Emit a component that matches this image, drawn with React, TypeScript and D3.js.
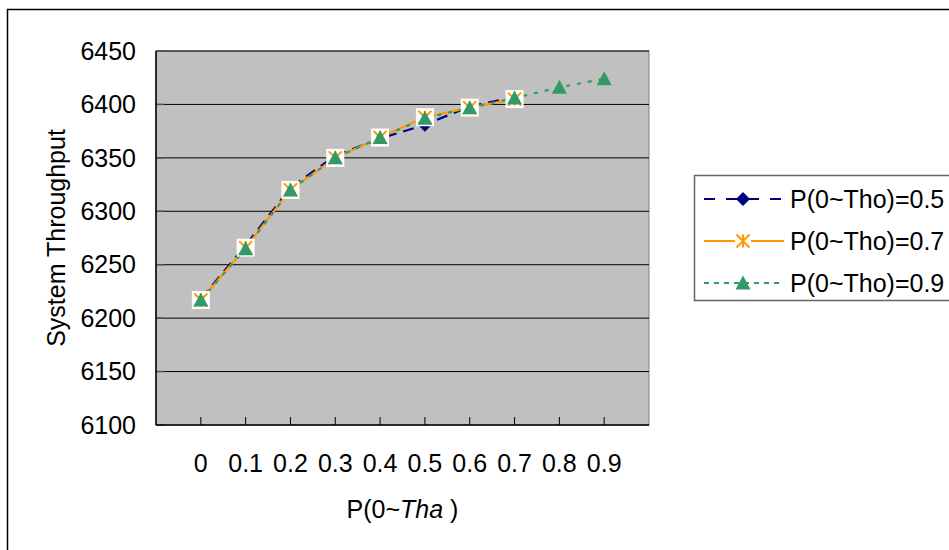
import React from "react";
import * as d3 from "d3";

// Category values along the x axis
const categories = [0, 0.1, 0.2, 0.3, 0.4, 0.5, 0.6, 0.7, 0.8, 0.9];
const categoryLabels = ["0", "0.1", "0.2", "0.3", "0.4", "0.5", "0.6", "0.7", "0.8", "0.9"];

// System throughput per series
const seriesP05 = [6218, 6268, 6322, 6352, 6368, 6381, 6398, 6407];
const seriesP07 = [6217, 6266, 6320, 6350, 6369, 6388, 6397, 6405];
const seriesP09 = [6217, 6265, 6320, 6350, 6369, 6387, 6397, 6406, 6416, 6424];

const seriesNames = ["P(0~Tho)=0.5", "P(0~Tho)=0.7", "P(0~Tho)=0.9"];

const yTicks = [6100, 6150, 6200, 6250, 6300, 6350, 6400, 6450];

const W = 949;
const H = 550;
const plot = { left: 156, right: 649, top: 51, bottom: 425 };

const FONT = "'Liberation Sans', Arial, sans-serif";
const NAVY = "#000080";
const ORANGE = "#FF9900";
const GREEN = "#339966";

export default function App() {
  const x = d3.scaleLinear().domain([-0.1, 1.0]).range([plot.left, plot.right]);
  const y = d3.scaleLinear().domain([6100, 6450]).range([plot.bottom, plot.top]);

  const toPts = (vals: number[]) => vals.map((v, i) => [x(categories[i]), y(v)] as [number, number]);
  const line = d3.line<[number, number]>();

  const p05 = toPts(seriesP05);
  const p07 = toPts(seriesP07);
  const p09 = toPts(seriesP09);

  const diamond = (cx: number, cy: number, r = 7) =>
    `M${cx},${cy - r}L${cx + r},${cy}L${cx},${cy + r}L${cx - r},${cy}Z`;
  const triangle = (cx: number, cy: number) =>
    `M${cx},${cy - 7.5}L${cx + 7.5},${cy + 6.5}L${cx - 7.5},${cy + 6.5}Z`;
  const asterisk = (cx: number, cy: number, r = 6.5) =>
    `M${cx - r},${cy - r}L${cx + r},${cy + r}M${cx + r},${cy - r}L${cx - r},${cy + r}M${cx},${cy - r}L${cx},${cy + r}`;

  const legendRows = [199, 241, 283];
  const legendX0 = 704;
  const legendX1 = 784;
  const legendMid = 743;

  return (
    <svg
      width={W}
      height={H}
      style={{ position: "absolute", left: 0, top: 0, background: "#fff" }}
      fontFamily={FONT}
    >
      {/* chart area border */}
      <rect x={7.5} y={9.5} width={1000} height={600} fill="#fff" stroke="#000" strokeWidth={1.5} />

      {/* plot area */}
      <rect
        x={plot.left}
        y={plot.top}
        width={plot.right - plot.left}
        height={plot.bottom - plot.top}
        fill="#C0C0C0"
        stroke="#808080"
        strokeWidth={1}
      />

      {/* horizontal gridlines */}
      {yTicks.slice(1).map((t) => (
        <line key={t} x1={plot.left} x2={plot.right} y1={y(t)} y2={y(t)} stroke="#000" strokeWidth={1} />
      ))}

      {/* y tick marks */}
      {yTicks.map((t) => (
        <line key={"yt" + t} x1={plot.left} x2={plot.left + 8} y1={y(t)} y2={y(t)} stroke="#555" strokeWidth={1.5} />
      ))}

      {/* x tick marks */}
      {categories.map((c) => (
        <line key={"xt" + c} x1={x(c)} x2={x(c)} y1={plot.bottom} y2={plot.bottom - 8} stroke="#000" strokeWidth={1} />
      ))}

      {/* axes */}
      <line x1={plot.left} x2={plot.left} y1={plot.top} y2={plot.bottom} stroke="#000" strokeWidth={1.5} />
      <line x1={plot.left} x2={plot.right} y1={plot.bottom} y2={plot.bottom} stroke="#000" strokeWidth={1.5} />

      {/* y tick labels */}
      {yTicks.map((t) => (
        <text key={"yl" + t} x={136} y={y(t)} dy="0.35em" textAnchor="end" fontSize={25} fill="#000">
          {t}
        </text>
      ))}

      {/* x tick labels */}
      {categories.map((c, i) => (
        <text key={"xl" + c} x={x(c)} y={463} dy="0.35em" textAnchor="middle" fontSize={25} fill="#000">
          {categoryLabels[i]}
        </text>
      ))}

      {/* axis titles */}
      <text x={(plot.left + plot.right) / 2} y={509} dy="0.35em" textAnchor="middle" fontSize={25} fill="#000">
        P(0~<tspan fontStyle="italic">Tha</tspan> )
      </text>
      <text
        transform={`translate(56, ${(plot.top + plot.bottom) / 2}) rotate(-90)`}
        dy="0.35em"
        textAnchor="middle"
        fontSize={25}
        fill="#000"
      >
        System Throughput
      </text>

      {/* series lines */}
      <path d={line(p05) || ""} fill="none" stroke={NAVY} strokeWidth={2.2} strokeDasharray="11,7" />
      <path d={line(p07) || ""} fill="none" stroke={ORANGE} strokeWidth={2.2} />
      <path d={line(p09) || ""} fill="none" stroke={GREEN} strokeWidth={2.2} strokeDasharray="4,7" />

      {/* markers */}
      {p05.map(([cx, cy], i) => (
        <path key={"d" + i} d={diamond(cx, cy)} fill={NAVY} />
      ))}
      {p07.map(([cx, cy], i) => (
        <g key={"s" + i}>
          <rect x={cx - 9} y={cy - 9} width={18} height={18} fill="#fff" />
          <path d={asterisk(cx, cy)} stroke={ORANGE} strokeWidth={2} fill="none" />
        </g>
      ))}
      {p09.map(([cx, cy], i) => (
        <path key={"t" + i} d={triangle(cx, cy)} fill={GREEN} />
      ))}

      {/* legend */}
      <rect x={694.5} y={175.5} width={400} height={125} fill="#fff" stroke="#666" strokeWidth={1.5} />
      <line x1={legendX0} x2={legendX1} y1={legendRows[0]} y2={legendRows[0]} stroke={NAVY} strokeWidth={2.2} strokeDasharray="11,11" />
      <path d={diamond(legendMid, legendRows[0])} fill={NAVY} />
      <line x1={legendX0} x2={legendX1} y1={legendRows[1]} y2={legendRows[1]} stroke={ORANGE} strokeWidth={2} />
      <rect x={legendMid - 8} y={legendRows[1] - 8} width={16} height={16} fill="#fff" />
      <path d={asterisk(legendMid, legendRows[1])} stroke={ORANGE} strokeWidth={2} fill="none" />
      <line x1={legendX0} x2={legendX1} y1={legendRows[2]} y2={legendRows[2]} stroke={GREEN} strokeWidth={2} strokeDasharray="5,5" />
      <path d={triangle(legendMid, legendRows[2])} fill={GREEN} />
      {seriesNames.map((n, i) => (
        <text key={n} x={790} y={legendRows[i]} dy="0.35em" fontSize={25} fill="#000">
          {n}
        </text>
      ))}
    </svg>
  );
}
